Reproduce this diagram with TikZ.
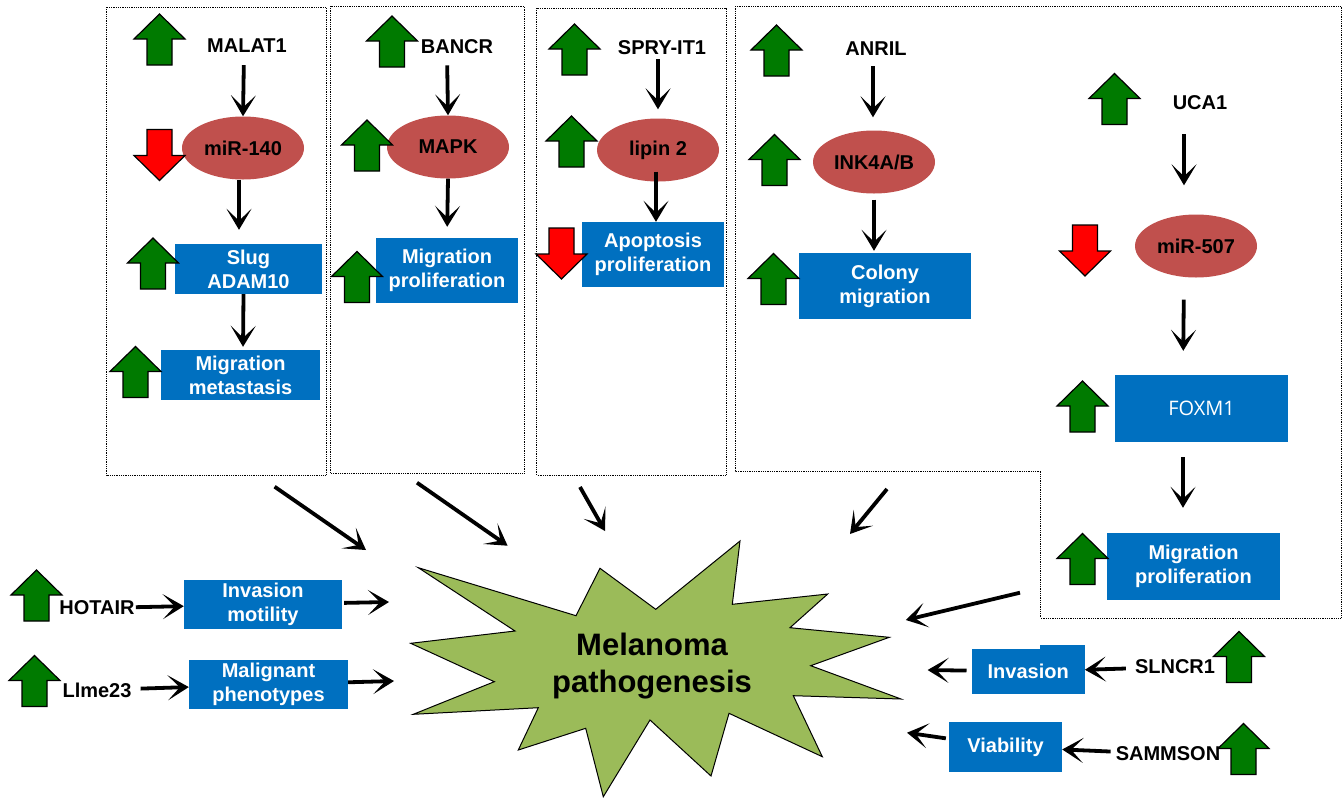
\documentclass[tikz,border=0pt]{standalone}
\usepackage{fontspec}
\setmainfont{Liberation Sans}
\newfontfamily\foxfont{Open Sans}
\usetikzlibrary{shapes.geometric,arrows.meta}
\definecolor{upgreen}{RGB}{0,122,0}
\definecolor{downred}{RGB}{255,0,0}
\definecolor{boxblue}{RGB}{0,112,192}
\definecolor{ovalred}{RGB}{192,80,77}
\definecolor{stargreen}{RGB}{155,187,89}
\tikzset{
  lbl/.style={font=\bfseries\fontsize{20}{24}\selectfont, inner sep=0pt},
  oval/.style={ellipse, fill=ovalred, inner sep=0pt, minimum width=122pt, minimum height=63pt,
    font=\bfseries\fontsize{20}{24}\selectfont},
  bluebox/.style={fill=boxblue, text=white, align=center, inner sep=0pt,
    font=\bfseries\fontsize{20}{24}\selectfont},
  arr/.style={line width=3.8pt, -{Stealth[length=21pt,width=25pt,inset=12pt]}},
  dotbox/.style={densely dotted, line width=0.8pt},
  uparr/.pic={\draw[fill=upgreen, line width=1.2pt] (0,-25.5) -- (25.5,-0.5) -- (12.5,-0.5)
    -- (12.5,25.5) -- (-12.5,25.5) -- (-12.5,-0.5) -- (-25.5,-0.5) -- cycle;},
  downarr/.pic={\draw[fill=downred, line width=1.2pt] (0,25.5) -- (25.5,0.5) -- (12.5,0.5)
    -- (12.5,-25.5) -- (-12.5,-25.5) -- (-12.5,0.5) -- (-25.5,0.5) -- cycle;}
}
\begin{document}
\begin{tikzpicture}[x=1pt,y=-1pt]
  \useasboundingbox (0,0) rectangle (1343,798);

  \draw[dotbox] (106.7,7) rectangle (326,475);
  \draw[dotbox] (330,6) rectangle (524.3,473);
  \draw[dotbox] (536.7,8) rectangle (726,475);
  \draw[dotbox] (735,6) -- (1341,6) -- (1341,618) -- (1040.7,618) -- (1040.7,471) -- (735,471) -- cycle;

  \draw[fill=stargreen, line width=1pt] (418.3,567.7) -- (576,615.7) -- (600,568.3) -- (655.7,609.3)
    -- (740,541) -- (732.3,604.3) -- (827.7,594) -- (790,627.7) -- (889.3,637.3) -- (810.7,665.7)
    -- (901,699) -- (793.3,695.7) -- (822.3,756.7) -- (729,713.3) -- (711,776) -- (650,720)
    -- (603.3,796.7) -- (585.7,728.3) -- (518.3,750) -- (538.3,707.7) -- (413.3,714.3)
    -- (494.3,681.7) -- (410.7,643.3) -- (515,631) -- cycle;
  \node[lbl, font=\bfseries\fontsize{31}{37}\selectfont, align=center] (melanoma) at (652,666)
    {Melanoma\\pathogenesis};

  \node[lbl] (malat) at (247,46) {MALAT1};
  \node[oval] (mir140) at (243,148) {miR-140};
  \node[bluebox, minimum width=147pt, minimum height=50pt] (slug) at (248.5,269) {Slug\\ADAM10};
  \node[bluebox, minimum width=159pt, minimum height=50pt] (migmet) at (240.5,375) {Migration\\metastasis};

  \node[lbl] (bancr) at (457,47) {BANCR};
  \node[oval] (mapk) at (448,147) {MAPK};
  \node[bluebox, minimum width=142pt, minimum height=65pt] (migproA) at (447,270.5) {Migration\\proliferation};

  \node[lbl] (spry) at (662,48) {SPRY-IT1};
  \node[oval] (lipin) at (658,150) {lipin 2};
  \node[bluebox, minimum width=142pt, minimum height=65pt] (apop) at (653,254.5) {Apoptosis\\proliferation};

  \node[lbl] (anril) at (876,49) {ANRIL};
  \node[oval] (ink) at (874,162) {INK4A/B};
  \node[bluebox, minimum width=172pt, minimum height=66pt] (colony) at (885,286) {Colony\\migration};

  \node[lbl] (uca) at (1200,103) {UCA1};
  \node[oval] (mir507) at (1196,246) {miR-507};
  \node[bluebox, minimum width=173pt, minimum height=67pt, font=\foxfont\fontsize{20}{24}\selectfont]
    (foxm) at (1201.5,408.5) {FOXM1};
  \node[bluebox, minimum width=173pt, minimum height=67pt] (migproB) at (1193.5,566.5) {Migration\\proliferation};

  \node[lbl] (hotair) at (97,608) {HOTAIR};
  \node[bluebox, minimum width=158pt, minimum height=49pt] (invmot) at (263,604.5) {Invasion\\motility};
  \node[lbl] (llme) at (97,690) {Llme23};
  \node[bluebox, minimum width=159pt, minimum height=49pt] (malig) at (268.5,684.5) {Malignant\\phenotypes};

  \fill[boxblue] (1040,645) rectangle (1084.8,650);
  \node[bluebox, minimum width=113pt, minimum height=45pt] (inva) at (1028.2,671.5) {Invasion};
  \node[lbl] (slncr) at (1175,667) {SLNCR1};
  \node[bluebox, minimum width=113pt, minimum height=50pt] (viab) at (1005.5,747) {Viability};
  \node[lbl] (sammson) at (1168,754) {SAMMSON};

  \coordinate (fromMalat) at (274.6,486.7);
  \coordinate (toMalat) at (366,550);
  \coordinate (fromBancr) at (417,482.7);
  \coordinate (toBancr) at (507.6,545.7);
  \coordinate (fromSpry) at (580,487);
  \coordinate (toSpry) at (605,531);
  \coordinate (fromAnril) at (887,489);
  \coordinate (toAnril) at (850,534);
  \coordinate (fromUca) at (1020,592.7);
  \coordinate (toUca) at (905.8,620);
  \coordinate (toInvmot) at (389,602);
  \coordinate (toMalig) at (394,681);
  \coordinate (toInva) at (927.6,670);
  \coordinate (toViab) at (907,732.7);

  \draw[arr, shorten <=12pt] ([xshift=-3pt]malat.south) -- (mir140.north);
  \draw[arr, shorten >=14pt] ([xshift=-4pt]mir140.south) -- ([xshift=-9.5pt]slug.north);
  \draw[arr, shorten >=3pt] ([xshift=-5pt]slug.south) -- ([xshift=2.5pt]migmet.north);
  \draw[arr, shorten <=11pt] ([xshift=-10pt]bancr.south) -- (mapk.north);
  \draw[arr, shorten >=11pt] (mapk.south) -- (migproA.north);
  \draw[arr, shorten <=4pt, shorten >=9pt] ([xshift=-4pt]spry.south) -- (lipin.north);
  \draw[arr, shorten <=-10pt] ([xshift=-2pt]lipin.south) -- ([xshift=3pt]apop.north);
  \draw[arr, shorten <=10pt, shorten >=13pt] ([xshift=-3pt]anril.south) -- ([xshift=-1pt]ink.north);
  \draw[arr, shorten <=6pt, shorten >=2pt] (ink.south) -- ([xshift=-11pt]colony.north);
  \draw[arr, shorten <=24pt, shorten >=29pt] ([xshift=-16pt]uca.south) -- ([xshift=-12pt]mir507.north);
  \draw[arr, shorten <=22pt, shorten >=24pt] ([xshift=-12pt]mir507.south) -- ([xshift=-18.5pt]foxm.north);
  \draw[arr, shorten <=15pt, shorten >=25pt] ([xshift=-18.5pt]foxm.south) -- ([xshift=-10.5pt]migproB.north);

  \draw[arr] (fromMalat) -- (toMalat);
  \draw[arr] (fromBancr) -- (toBancr);
  \draw[arr] (fromSpry) -- (toSpry);
  \draw[arr] (fromAnril) -- (toAnril);
  \draw[arr] (fromUca) -- (toUca);

  \draw[arr, shorten <=1pt] (hotair) -- (invmot);
  \draw[arr, shorten <=2pt] (invmot) -- (toInvmot);
  \draw[arr, shorten <=9pt] (llme) -- (malig);
  \draw[arr] (malig) -- (toMalig);
  \draw[arr, shorten <=9pt] (slncr) -- (inva);
  \draw[arr, shorten <=5pt] (inva) -- (toInva);
  \draw[arr, shorten <=5pt] (sammson) -- (viab);
  \draw[arr, shorten <=3pt] (viab) -- (toViab);

  \pic at (159.5,39.5) {uparr};
  \pic at (159.5,155) {downarr};
  \pic at (153,263.5) {uparr};
  \pic at (135.5,372) {uparr};
  \pic at (392,41.5) {uparr};
  \pic at (367,145.5) {uparr};
  \pic at (357,277) {uparr};
  \pic at (574.5,49.5) {uparr};
  \pic at (571.5,141.5) {uparr};
  \pic at (561.5,253.5) {downarr};
  \pic at (776.5,50.5) {uparr};
  \pic at (774.5,160) {uparr};
  \pic at (773.5,279) {uparr};
  \pic at (1114.5,99) {uparr};
  \pic at (1085,250.5) {downarr};
  \pic at (1082.5,406.5) {uparr};
  \pic at (1082.5,559) {uparr};
  \pic at (36.5,595.5) {uparr};
  \pic at (34.5,681) {uparr};
  \pic at (1239,657) {uparr};
  \pic at (1243.5,749) {uparr};
\end{tikzpicture}
\end{document}
